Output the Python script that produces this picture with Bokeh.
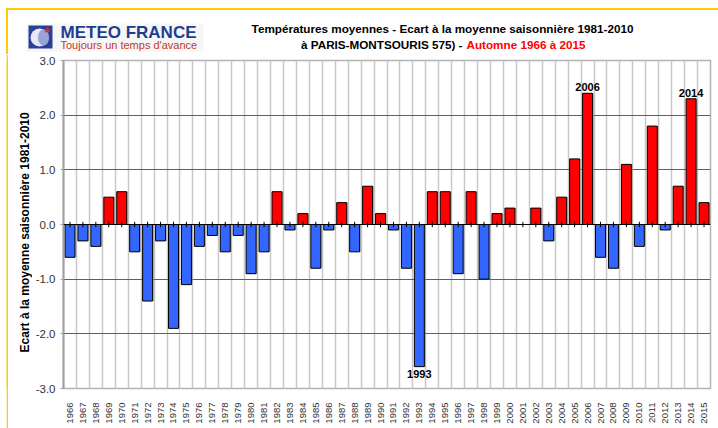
import math
from bokeh.plotting import figure
from bokeh.models import Range1d, FixedTicker, PrintfTickFormatter, ColumnDataSource, Span
from bokeh.layouts import column, row
from bokeh.transform import dodge
from bokeh.core.properties import value
from bokeh.embed import file_html
from bokeh.resources import INLINE

# ---------------- data ----------------
years = list(range(1966, 2016))
anomalies = [-0.6, -0.3, -0.4, 0.5, 0.6, -0.5, -1.4, -0.3, -1.9, -1.1,
             -0.4, -0.2, -0.5, -0.2, -0.9, -0.5, 0.6, -0.1, 0.2, -0.8,
             -0.1, 0.4, -0.5, 0.7, 0.2, -0.1, -0.8, -2.6, 0.6, 0.6,
             -0.9, 0.6, -1.0, 0.2, 0.3, 0.0, 0.3, -0.3, 0.5, 1.2,
             2.4, -0.6, -0.8, 1.1, -0.4, 1.8, -0.1, 0.7, 2.3, 0.4]
year_labels = [str(y) for y in years]
y_ticks = [-3, -2, -1, 0, 1, 2, 3]
highlight_years = [1993, 2006, 2014]

title_line1 = "Températures moyennes - Ecart à la moyenne saisonnière 1981-2010"
title_line2_black = "à PARIS-MONTSOURIS 575) -"
title_line2_red = "Automne 1966 à 2015"
y_label = "Ecart à la moyenne saisonnière 1981-2010"

FONT = "Liberation Sans"
YELLOW = "#ffcc00"

HEAD_H = 54
MAIN_H = 374


def blank(w, hgt, color="white"):
    s = figure(width=w, height=hgt, output_backend="svg", toolbar_location=None,
               x_axis_type=None, y_axis_type=None, min_border=0)
    s.grid.visible = False
    s.outline_line_color = None
    s.background_fill_color = color
    s.border_fill_color = color
    return s


# ---------------- header (logo + title) ----------------
h = figure(width=718, height=HEAD_H, x_range=Range1d(0, 718), y_range=Range1d(HEAD_H, 0),
           output_backend="svg", toolbar_location=None,
           x_axis_type=None, y_axis_type=None, min_border=0)
h.grid.visible = False
h.outline_line_color = None

# yellow frame of the picture
h.segment(x0=[6], y0=[8.5], x1=[718], y1=[8.5], line_color=YELLOW, line_width=2)
h.segment(x0=[6.5], y0=[8], x1=[6.5], y1=[HEAD_H], line_color=YELLOW, line_width=2)

# logo
h.rect(x=[114.5], y=[37], width=[177], height=[28], fill_color="#f6f6f6", line_color=None)
h.rect(x=[40], y=[36.5], width=[24], height=[23], fill_color="#2b3f99", line_color=None)
h.ellipse(x=[39], y=[37], width=[18], height=[18], fill_color="#e6e8f5", line_color=None)
h.ellipse(x=[43], y=[37], width=[11], height=[16], fill_color="#9aa3d6", line_color=None)
h.scatter(x=[47], y=[30], marker="triangle", size=6, fill_color="#e8281e", line_color=None)

h.text(x=[60], y=[31.5], text=["METEO FRANCE"], text_font=value(FONT), text_font_style="bold",
       text_font_size="17px", text_color="#1f3d8f", text_baseline="middle", text_align="left")
h.text(x=[60], y=[44], text=["Toujours un temps d'avance"], text_font=value(FONT),
       text_font_size="11px", text_color="#c0392b", text_baseline="middle", text_align="left")

# title
h.text(x=[442], y=[28], text=[title_line1], text_font=value(FONT), text_font_style="bold",
       text_font_size="11.7px", text_color="black", text_align="center", text_baseline="middle")
h.text(x=[462], y=[44], text=[title_line2_black], text_font=value(FONT), text_font_style="bold",
       text_font_size="11.7px", text_color="black", text_align="right", text_baseline="middle")
h.text(x=[466], y=[44], text=[title_line2_red], text_font=value(FONT), text_font_style="bold",
       text_font_size="11.7px", text_color="#ff0000", text_align="left", text_baseline="middle")

# ---------------- y axis title (separate narrow panel) ----------------
lab = figure(width=24, height=MAIN_H, x_range=Range1d(0, 24), y_range=Range1d(MAIN_H, 0),
             output_backend="svg", toolbar_location=None,
             x_axis_type=None, y_axis_type=None, min_border=0)
lab.grid.visible = False
lab.outline_line_color = None
lab.text(x=[16], y=[196], text=[y_label], angle=math.pi / 2, text_font=value(FONT),
         text_font_style="bold", text_font_size="12px", text_color="black",
         text_align="center", text_baseline="middle")

# ---------------- main chart ----------------
colors = ["#ff0000" if v > 0 else "#3366ff" for v in anomalies]
src = ColumnDataSource(dict(x=years, top=anomalies, color=colors))

p = figure(width=686, height=MAIN_H,
           x_range=Range1d(years[0] - 0.5, years[-1] + 0.5),
           y_range=Range1d(y_ticks[0], y_ticks[-1]),
           output_backend="svg", toolbar_location=None,
           min_border_left=28, min_border_right=8, min_border_top=6, min_border_bottom=40)

p.outline_line_color = "#b4b4b4"
p.outline_line_width = 1.5

p.xgrid.ticker = FixedTicker(ticks=[y + 0.5 for y in years[:-1]])
p.xgrid.grid_line_color = "#c8c8c8"
p.xgrid.grid_line_width = 1.5
p.ygrid.ticker = FixedTicker(ticks=[t for t in y_ticks if t not in (0, y_ticks[0], y_ticks[-1])])
p.ygrid.grid_line_color = "#606060"
p.ygrid.grid_line_width = 1.2

# shadow + bars
p.vbar(x=dodge("x", 0.12, range=p.x_range), top="top", bottom=0, width=0.77, source=src,
       fill_color="#9a9a9a", fill_alpha=0.6, line_color=None)
p.vbar(x="x", top="top", bottom=0, width=0.77, source=src,
       fill_color="color", line_color="black", line_width=1)

p.add_layout(Span(location=0, dimension="width", line_color="black", line_width=1.2))
p.segment(x0=years, y0=[-0.05] * len(years), x1=years, y1=[0.05] * len(years),
          line_color="black", line_width=1)

# highlighted year labels
pos = [(y, v) for y, v in zip(years, anomalies) if y in highlight_years and v > 0]
neg = [(y, v) for y, v in zip(years, anomalies) if y in highlight_years and v <= 0]
p.text(x=[a for a, _ in pos], y=[b for _, b in pos], text=[str(a) for a, _ in pos],
       text_font=value(FONT), text_font_style="bold", text_font_size="11px",
       text_align="center", text_baseline="bottom", y_offset=-2)
p.text(x=[a for a, _ in neg], y=[b for _, b in neg], text=[str(a) for a, _ in neg],
       text_font=value(FONT), text_font_style="bold", text_font_size="11px",
       text_align="center", text_baseline="top", y_offset=3)

# x axis
p.xaxis.ticker = FixedTicker(ticks=years)
p.xaxis.major_label_overrides = {y: lab_ for y, lab_ in zip(years, year_labels)}
p.xaxis.major_label_orientation = math.pi / 2
p.xaxis.major_tick_line_color = None
p.xaxis.minor_tick_line_color = None
p.xaxis.axis_line_color = None
p.xaxis.major_label_standoff = 8
p.xaxis.major_label_text_font = FONT
p.xaxis.major_label_text_font_size = "9.5px"
p.xaxis.major_label_text_color = "#333333"

# y axis
p.yaxis.ticker = FixedTicker(ticks=y_ticks)
p.yaxis.formatter = PrintfTickFormatter(format="%.1f")
p.yaxis.axis_line_color = "#a0a0a0"
p.yaxis.axis_line_width = 2
p.yaxis.major_tick_line_color = "#a0a0a0"
p.yaxis.major_tick_out = 3
p.yaxis.major_tick_in = 0
p.yaxis.minor_tick_line_color = None
p.yaxis.major_label_standoff = 5
p.yaxis.major_label_text_font = FONT
p.yaxis.major_label_text_font_size = "11.5px"
p.yaxis.major_label_text_color = "#333333"

layout = column(
    h,
    row(blank(6, MAIN_H), blank(2, MAIN_H, YELLOW), lab, p, spacing=0),
    spacing=0,
)

open("out.html", "w").write(file_html(layout, INLINE))
